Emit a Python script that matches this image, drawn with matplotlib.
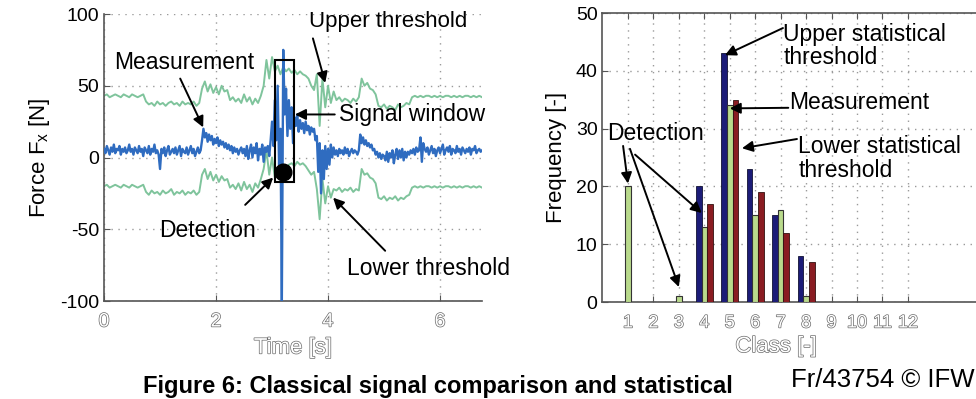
import numpy as np
import matplotlib
matplotlib.use("Agg")
import matplotlib.pyplot as plt
import matplotlib.patches as mpatches
import matplotlib.patheffects as pe

plt.rcParams['font.family'] = ['Liberation Sans', 'DejaVu Sans']
plt.rcParams['mathtext.fontset'] = 'custom'
plt.rcParams['mathtext.rm'] = 'Liberation Sans'
plt.rcParams['mathtext.it'] = 'Liberation Sans:italic'
plt.rcParams['axes.unicode_minus'] = False

# ---------------------------------------------------------------------------
# left panel: force signal, sampled every 0.025 s (measurement) / 0.05 s (thresholds)
# ---------------------------------------------------------------------------
meas_dt = 0.025
measurement = [
    6, 3, 8, 5, 2, 7, 4, 9, 3, 6,
    5, 8, 2, 6, 4, 7, 3, 5, 9, 4,
    6, 2, 7, 5, 3, 8, 4, 6, 1, 7,
    5, 3, 8, 2, 6, 4, 9, 3, 5, 2,
    -8, 6, 3, 7, 1, 5, 8, 2, 4, 6,
    3, 7, 2, 5, 8, 1, 6, 4, 3, 7,
    2, 5, 8, 3, 6, 1, 4, 7, 3, 5,
    12, 20, 14, 17, 11, 16, 12, 15, 9, 13,
    10, 14, 8, 12, 9, 11, 7, 10, 6, 9,
    5, 8, 3, 7, 4, 6, 2, 5, 7, 3,
    6, 1, 8, -1, 5, 9, 0, 7, 3, 10,
    -2, 6, 2, 9, -3, 7, 4, 8, 1, 12,
    25, 8, 40, 12, 50, -5, 20, -100, 75, 30,
    48, 15, 40, 20, 35, 10, 28, 22, 30, 18,
    26, 20, 24, 17, 25, 19, 22, 16, 21, 18,
    20, 12, 15, -10, 10, -25, 5, -15, 8, -8,
    6, -5, 9, 0, 7, 2, 5, 1, 6, 3,
    5, 2, 7, 3, 6, 1, 4, 6, 3, 5,
    4, 2, 5, 16, 10, 14, 9, 12, 8, 10,
    7, 9, 5, 6, 2, 4, 0, 3, -1, 2,
    1, -2, 4, -3, 3, 0, 5, -4, 2, 6,
    -1, 5, 0, 6, -2, 4, 0, 4, 2, 5,
    3, 6, 2, 7, 4, 5, 14, -3, 10, 6,
    4, 7, 2, 5, 8, 3, 6, 1, 5, 7,
    3, 6, 9, 2, 5, 7, 4, 8, 2, 6,
    5, 3, 8, 4, 6, 2, 7, 5, 3, 6,
    4, 7, 2, 6, 5, 8, 3, 5, 6, 4, 5,
]

thr_dt = 0.05
upper_threshold = [
    43, 44, 42, 43, 44, 43, 42, 44, 43, 42, 44, 43, 42, 43, 44,
    39, 37, 38, 36, 39, 37, 38, 36, 38, 39, 37, 38, 36, 39, 37, 38, 37, 39, 36, 38,
    48, 53, 46, 51, 45, 49, 44, 50, 46, 47,
    40, 42, 39, 41, 38, 44, 39, 42, 37, 41, 38, 43,
    50, 68, 55, 70,
    60, 64, 58, 63, 60, 62, 59, 61, 58, 60,
    58, 57, 55, 50, 47,
    58, 22, 55, 35, 50, 38, 46,
    40, 42, 39, 41, 40, 38, 41, 39, 42,
    55, 50, 52, 48, 47, 44,
    36, 35, 37, 34, 36, 35, 33, 37, 35, 36, 38, 37,
    42, 43, 42, 43, 42, 43, 43, 42, 43, 42, 43, 42, 43,
    43, 42, 43, 42, 43, 42, 43, 43, 42, 43, 42, 43, 42,
]
lower_threshold = [
    -20, -19, -21, -20, -19, -20, -21, -19, -20, -21, -19, -20, -21, -20, -19,
    -24, -26, -23, -25, -24, -26, -23, -25, -24, -22, -26, -24, -25, -23, -26,
    -24, -25, -23, -26, -24,
    -12, -8, -15, -10, -16, -12, -17, -13, -16, -15,
    -21, -19, -22, -18, -23, -17, -22, -19, -24, -18, -21, -15,
    -8, 5, -12, 0,
    -14, -10, -16, -12, -8, -5, -4, -6, -3, -5,
    -4, -6, -9, -12, -10,
    -22, -43, -15, -32, -20, -28, -22,
    -23, -21, -24, -22, -23, -21, -24, -22, -23,
    -8, -12, -11, -14, -15, -18,
    -28, -29, -27, -30, -28, -29, -27, -30, -28, -29, -27, -26,
    -21, -20, -21, -20, -21, -20, -20, -21, -20, -21, -20, -21, -20,
    -20, -21, -20, -21, -20, -21, -20, -20, -21, -20, -21, -20, -21,
]

# ---------------------------------------------------------------------------
# right panel: class histogram
# ---------------------------------------------------------------------------
classes = [1, 2, 3, 4, 5, 6, 7, 8, 9, 10, 11, 12]
freq_upper = [0, 0, 0, 20, 43, 23, 15, 8, 0, 0, 0, 0]
freq_meas = [20, 0, 1, 13, 34, 15, 16, 1, 0, 0, 0, 0]
freq_lower = [0, 0, 0, 17, 35, 19, 12, 7, 0, 0, 0, 0]

BLUE = '#2f6cc0'
GREEN = '#7fc49c'
NAVY = '#1c1c78'
LIGHTGREEN = '#b9da8c'
DARKRED = '#8a1c22'
GRID = dict(color='#9a9a9a', linestyle=(0, (1, 4)), linewidth=1.0)
ARROW = dict(arrowstyle='-|>', color='k', lw=1.4, mutation_scale=16,
             shrinkA=0, shrinkB=0)
hollow = [pe.withStroke(linewidth=1.0, foreground='#6a6a6a')]

fig = plt.figure(figsize=(9.76, 3.99), dpi=100)

# --- left: force signal -----------------------------------------------------
ax1 = fig.add_axes([0.1066, 0.2456, 0.3873, 0.7193])
t_meas = np.arange(len(measurement)) * meas_dt
t_thr = np.arange(len(upper_threshold)) * thr_dt
ax1.plot(t_thr, upper_threshold, color=GREEN, lw=1.4, zorder=2)
ax1.plot(t_thr, lower_threshold, color=GREEN, lw=1.4, zorder=2)
ax1.plot(t_meas, measurement, color=BLUE, lw=1.7, zorder=3)

ax1.set_xlim(0, 6.75)
ax1.set_ylim(-100, 100)
ax1.set_xticks([0, 2, 4, 6])
ax1.set_yticks([-100, -50, 0, 50, 100])
ax1.grid(True, **GRID)
for s in ['top', 'right']:
    ax1.spines[s].set_visible(False)
for s in ['left', 'bottom']:
    ax1.spines[s].set_color('#555555')
    ax1.spines[s].set_linewidth(1.2)
ax1.tick_params(direction='in', length=4, color='#555555', labelsize=14)
ax1.tick_params(axis='x', pad=9)
for lab in ax1.get_xticklabels():
    lab.set_color('white')
    lab.set_path_effects(hollow)
ax1.set_ylabel(r'Force F$_\mathrm{x}$ [N]', fontsize=16, labelpad=6)
xl = ax1.set_xlabel('Time [s]', fontsize=16, color='white', labelpad=5)
xl.set_path_effects(hollow)

ax1.add_patch(mpatches.Rectangle((3.05, -17), 0.34, 85, fill=False,
                                 ec='k', lw=1.5, zorder=5))
ax1.plot([3.2], [-10], 'o', ms=12, color='k', zorder=6)

ax1.text(1.43, 66, 'Measurement', fontsize=16.5, ha='center', va='center')
ax1.annotate('', xy=(1.77, 21), xytext=(1.36, 55), arrowprops=ARROW)
ax1.text(5.07, 95, 'Upper threshold', fontsize=16, ha='center', va='center',
         clip_on=False)
ax1.annotate('', xy=(3.95, 52), xytext=(3.73, 83), arrowprops=ARROW)
ax1.text(4.2, 30, 'Signal window', fontsize=16.5, ha='left', va='center',
         clip_on=False)
ax1.annotate('', xy=(3.41, 30), xytext=(4.12, 30), arrowprops=ARROW)
ax1.text(1.85, -51, 'Detection', fontsize=16.5, ha='center', va='center')
ax1.annotate('', xy=(3.02, -14), xytext=(2.52, -33), arrowprops=ARROW)
ax1.text(5.8, -77, 'Lower threshold', fontsize=16.5, ha='center',
         va='center', clip_on=False)
ax1.annotate('', xy=(4.09, -28), xytext=(5.02, -65), arrowprops=ARROW)

# --- right: histogram ---------------------------------------------------------
ax2 = fig.add_axes([0.6173, 0.2431, 0.3912, 0.7243])
c = np.array(classes)
w = 0.22
ax2.bar(c - w, freq_upper, width=w, color=NAVY, edgecolor='#111133', lw=0.6,
        zorder=3)
ax2.bar(c, freq_meas, width=w, color=LIGHTGREEN, edgecolor='#333333', lw=0.8,
        zorder=3)
ax2.bar(c + w, freq_lower, width=w, color=DARKRED, edgecolor='#331111', lw=0.6,
        zorder=3)

ax2.set_xlim(0, 15)
ax2.set_ylim(0, 50)
ax2.set_xticks(classes)
ax2.set_yticks([0, 10, 20, 30, 40, 50])
ax2.grid(True, **GRID)
for s in ax2.spines.values():
    s.set_color('#555555')
    s.set_linewidth(1.2)
ax2.tick_params(direction='in', length=4, color='#555555', labelsize=14,
                top=True, right=True)
ax2.tick_params(axis='x', pad=9, labelsize=13)
for lab in ax2.get_xticklabels():
    lab.set_color('white')
    lab.set_path_effects(hollow)
ax2.set_ylabel('Frequency [-]', fontsize=16, labelpad=6)
xl2 = ax2.set_xlabel('Class [-]', fontsize=16, color='white', labelpad=6)
xl2.set_path_effects(hollow)
ax2.xaxis.set_label_coords(0.455, -0.118)

ax2.text(7.1, 44.3, 'Upper statistical\nthreshold', fontsize=16.5,
         ha='left', va='center', linespacing=1.05)
ax2.annotate('', xy=(4.81, 42.7), xytext=(7.09, 47.4), arrowprops=ARROW)
ax2.text(7.33, 34.6, 'Measurement', fontsize=16.5, ha='left', va='center')
ax2.annotate('', xy=(5.0, 33.5), xytext=(7.3, 33.6), arrowprops=ARROW)
ax2.text(7.7, 24.9, 'Lower statistical\nthreshold', fontsize=16.5,
         ha='left', va='center', linespacing=1.05)
ax2.annotate('', xy=(5.48, 26.6), xytext=(7.64, 28.2), arrowprops=ARROW)
ax2.text(0.18, 29.2, 'Detection', fontsize=16.5, ha='left', va='center')
ax2.annotate('', xy=(1.0, 20.5), xytext=(0.81, 27), arrowprops=ARROW)
ax2.annotate('', xy=(3.0, 2.6), xytext=(1.08, 26.5), arrowprops=ARROW)
ax2.annotate('', xy=(3.9, 15.4), xytext=(1.28, 25.5), arrowprops=ARROW)

# --- figure texts -------------------------------------------------------------
fig.text(0.998, 0.048, 'Fr/43754 \u00a9 IFW', fontsize=18.5, ha='right',
         va='center')
fig.text(0.147, 0.003,
         'Figure 6: Classical signal comparison and statistical',
         fontsize=17, fontweight='bold', ha='left', va='bottom')

fig.savefig('out.png', dpi=100)
